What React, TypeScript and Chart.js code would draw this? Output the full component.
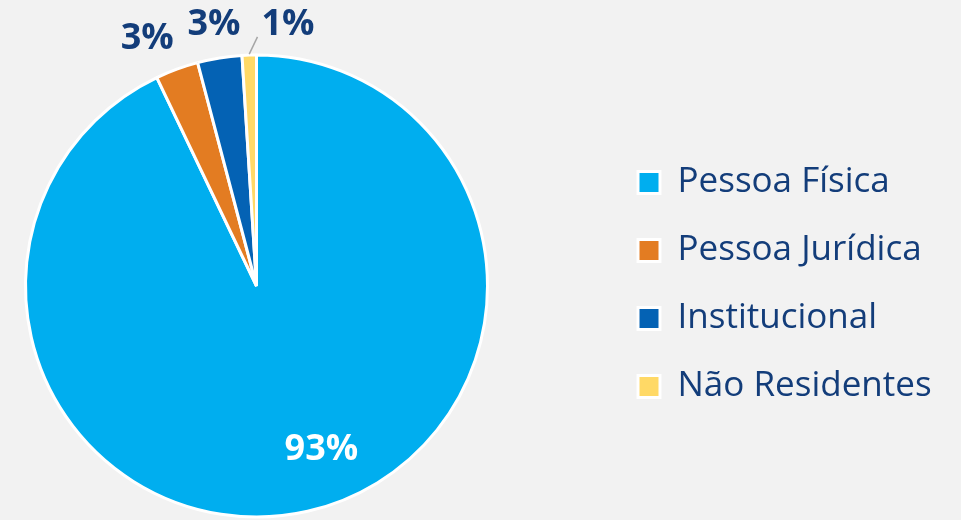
import React, { useEffect, useRef } from "react";
import { Chart, registerables } from "chart.js";

Chart.register(...registerables);

const categories = ["Pessoa Física", "Pessoa Jurídica", "Institucional", "Não Residentes"];
const shares = [92.9, 3.0, 3.1, 1.0];
const sliceColors = ["#00AEEF", "#E37C22", "#0462B4", "#FFD966"];

const NAVY = "#133D7A";
const FONT = "'Open Sans', 'Noto Sans', sans-serif";

// layout constants
const OFFSET = 92; // canvas shifted left so the pie sits near the left edge
const LEGEND_LEFT = 697; // in canvas px
const LEG_FS = 35;
const LEG_BOX = 22;
const LEG_PAD = 33;
const CANVAS_H = 569;
const TOP_SPACER = 3;

const sliceLabelPlugin = {
  id: "sliceLabels",
  afterDatasetsDraw(chart: any, _args: any, opts: any) {
    const ctx = chart.ctx as CanvasRenderingContext2D;
    const meta = chart.getDatasetMeta(0);
    const data = chart.data.datasets[0].data as number[];
    const total = data.reduce((a, b) => a + b, 0);
    const fs = opts.fontSize as number;
    meta.data.forEach((arc: any, i: number) => {
      const p = arc.getProps(["x", "y", "startAngle", "endAngle", "outerRadius"], true);
      const frac = data[i] / total;
      const text = Math.round(frac * 100) + "%";
      const mid0 = (p.startAngle + p.endAngle) / 2;
      const mid = mid0 + ((opts.angleShift[i] || 0) * Math.PI) / 180;
      ctx.save();
      ctx.font = `bold ${fs}px ${FONT}`;
      ctx.textAlign = "center";
      ctx.textBaseline = "alphabetic";
      const hw = ctx.measureText(text).width / 2;
      const hh = (fs * 0.714) / 2;
      let r: number;
      const inside = frac > 0.1;
      if (inside) {
        r = p.outerRadius * opts.insideRatio;
      } else {
        r = p.outerRadius + opts.gap + hw * Math.abs(Math.cos(mid)) + hh * Math.abs(Math.sin(mid));
      }
      const lx = p.x + r * Math.cos(mid);
      const ly = p.y + r * Math.sin(mid);
      if (!inside && opts.leader[i]) {
        const sx = p.x + (p.outerRadius + 1) * Math.cos(mid0);
        const sy = p.y + (p.outerRadius + 1) * Math.sin(mid0);
        const ex = Math.min(Math.max(sx, lx - hw - 4), lx + hw + 4);
        const ey = Math.min(Math.max(sy, ly - hh - 2), ly + hh + 2);
        ctx.strokeStyle = "#A6A6A6";
        ctx.lineWidth = 1.5;
        ctx.beginPath();
        ctx.moveTo(sx, sy);
        ctx.lineTo(ex, ey);
        ctx.stroke();
      }
      ctx.fillStyle = inside ? "#FFFFFF" : NAVY;
      ctx.fillText(text, lx, ly + hh);
      ctx.restore();
    });
  },
};

function legendNaturalWidth(): number {
  const c = document.createElement("canvas").getContext("2d")!;
  c.font = `normal ${LEG_FS}px ${FONT}`;
  const maxText = Math.max(...categories.map((t) => c.measureText(t).width));
  return LEG_PAD + LEG_BOX + LEG_FS / 2 + maxText + 10;
}

export default function App() {
  const ref = useRef<HTMLCanvasElement | null>(null);
  const legW = legendNaturalWidth();
  const canvasW = Math.ceil(LEGEND_LEFT + legW + 2);
  const padRight = canvasW - LEGEND_LEFT - legW;
  useEffect(() => {
    if (!ref.current) return;
    const chart = new Chart(ref.current, {
      type: "pie",
      data: {
        labels: categories,
        datasets: [
          {
            data: shares,
            backgroundColor: sliceColors,
            borderColor: "#FFFFFF",
            borderWidth: 3,
          },
        ],
      },
      options: {
        animation: false,
        responsive: false,
        radius: 231,
        layout: { padding: { left: 0, right: padRight, top: 0, bottom: 0 } },
        plugins: {
          title: { display: true, text: "", padding: 0, font: { size: TOP_SPACER, lineHeight: 1 } },
          tooltip: { enabled: false },
          legend: {
            position: "right",
            align: "center",
            labels: {
              color: NAVY,
              font: { size: LEG_FS, family: FONT },
              boxWidth: LEG_BOX,
              boxHeight: LEG_BOX,
              padding: LEG_PAD,
            },
          },
          sliceLabels: {
            fontSize: 36,
            gap: 19,
            insideRatio: 0.75,
            angleShift: [-9.2, -3.5, 0, 8.6],
            leader: [false, false, false, true],
          },
        } as any,
      },
      plugins: [sliceLabelPlugin],
    });
    return () => chart.destroy();
  }, []);
  return (
    <div
      style={{
        position: "fixed",
        left: 0,
        top: 0,
        width: 961,
        height: 520,
        overflow: "hidden",
        background: "#F2F2F2",
      }}
    >
      <canvas
        ref={ref}
        width={canvasW}
        height={CANVAS_H}
        style={{ position: "absolute", left: -OFFSET, top: 0, width: canvasW, height: CANVAS_H, display: "block" }}
      />
    </div>
  );
}
